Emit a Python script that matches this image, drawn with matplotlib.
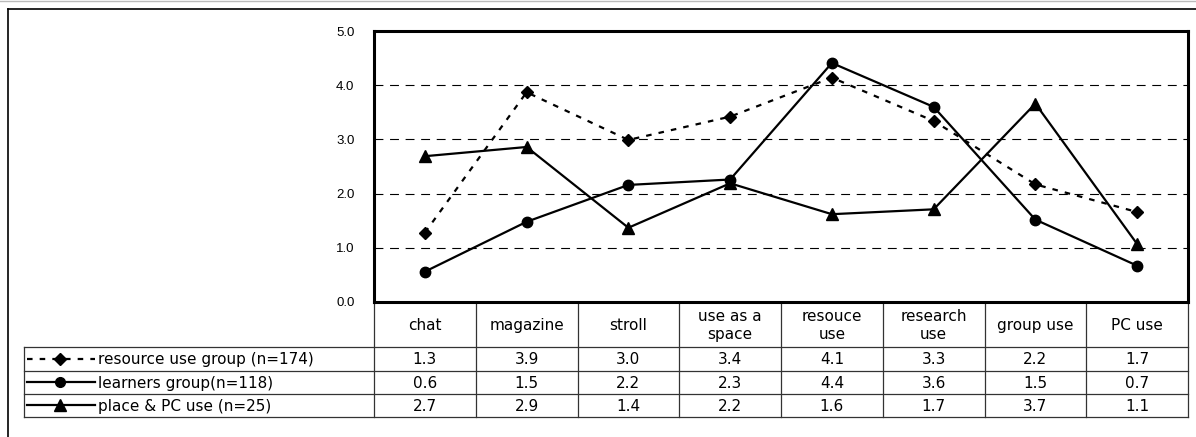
import matplotlib
matplotlib.use("Agg")
import matplotlib.pyplot as plt
from matplotlib.lines import Line2D

categories = ["chat", "magazine", "stroll", "use as a\nspace", "resouce\nuse",
              "research\nuse", "group use", "PC use"]
series_names = ["resource use group (n=174)", "learners group(n=118)", "place & PC use (n=25)"]
resource_use = [1.28, 3.87, 2.99, 3.42, 4.14, 3.34, 2.17, 1.66]
learners = [0.56, 1.48, 2.16, 2.26, 4.41, 3.60, 1.52, 0.67]
place_pc = [2.69, 2.86, 1.37, 2.19, 1.62, 1.71, 3.66, 1.07]
y_ticks = [0.0, 1.0, 2.0, 3.0, 4.0, 5.0]

series = [resource_use, learners, place_pc]
styles = [dict(ls=(0, (2.5, 3.2)), marker="D", ms=6.5),
          dict(ls="-", marker="o", ms=7.5),
          dict(ls="-", marker="^", ms=8.5)]

W, H = 1196, 437
fig = plt.figure(figsize=(W / 100, H / 100), dpi=100)

# overlay axes in pixel coordinates for frame and table
ov = fig.add_axes([0, 0, 1, 1])
ov.set_xlim(0, W)
ov.set_ylim(H, 0)
ov.axis("off")

x0, x1 = 374, 1188
ytop, ybot = 31, 302
ax = fig.add_axes([x0 / W, 1 - ybot / H, (x1 - x0) / W, (ybot - ytop) / H])
ax.set_xlim(-0.5, len(categories) - 0.5)
ax.set_ylim(0, 5)
ax.set_yticks(y_ticks)
ax.set_yticklabels([f"{v:.1f}" for v in y_ticks], fontsize=9.5, family="Liberation Sans")
ax.tick_params(axis="y", length=0, pad=14)
ax.set_xticks([])
for s in ax.spines.values():
    s.set_linewidth(2.2)
for v in y_ticks[1:-1]:
    ax.axhline(v, color="black", lw=0.8, ls=(0, (8, 6)), zorder=1)

xs = list(range(len(categories)))
for vals, st in zip(series, styles):
    ax.plot(xs, vals, color="black", lw=1.6, ls=st["ls"], marker=st["marker"],
            ms=st["ms"], mfc="black", mec="black", zorder=3)

# outer frame
ov.plot([8, 8], [9, H + 5], color="black", lw=1.2)
ov.plot([8, W + 5], [9, 9], color="black", lw=1.2)
ov.plot([0, W], [0.5, 0.5], color="#bbbbbb", lw=1)

# table
cw = (x1 - x0) / len(categories)
row_y = [346.7, 370.7, 394.2, 416.7]
lx = 24
tc = "#333333"
fnt = dict(family="DejaVu Sans", fontsize=11, color="black")
# horizontal lines
for y in row_y:
    ov.plot([lx, x1], [y, y], color=tc, lw=0.9)
# vertical lines
for i in range(len(categories) + 1):
    xv = x0 + i * cw
    ov.plot([xv, xv], [ybot, row_y[-1]], color=tc, lw=0.9)
ov.plot([lx, lx], [row_y[0], row_y[-1]], color=tc, lw=0.9)

# header
for i, c in enumerate(categories):
    cx = x0 + (i + 0.5) * cw
    ov.text(cx, (ybot + row_y[0]) / 2 + 1, c, ha="center", va="center",
            linespacing=1.25, **fnt)

# data rows
for r, (vals, name, st) in enumerate(zip(series, series_names, styles)):
    cy = (row_y[r] + row_y[r + 1]) / 2
    for i, v in enumerate(vals):
        cx = x0 + (i + 0.5) * cw
        ov.text(cx, cy + 1, f"{v:.1f}", ha="center", va="center", **fnt)
    ov.add_line(Line2D([27, 95], [cy, cy], color="black", lw=1.6, ls=st["ls"]))
    ov.add_line(Line2D([60], [cy], color="black", marker=st["marker"],
                       ms=st["ms"] - 0.5, mfc="black", mec="black", ls="none"))
    ov.text(98, cy + 1, name, ha="left", va="center", **fnt)

fig.savefig("out.png", dpi=100)
